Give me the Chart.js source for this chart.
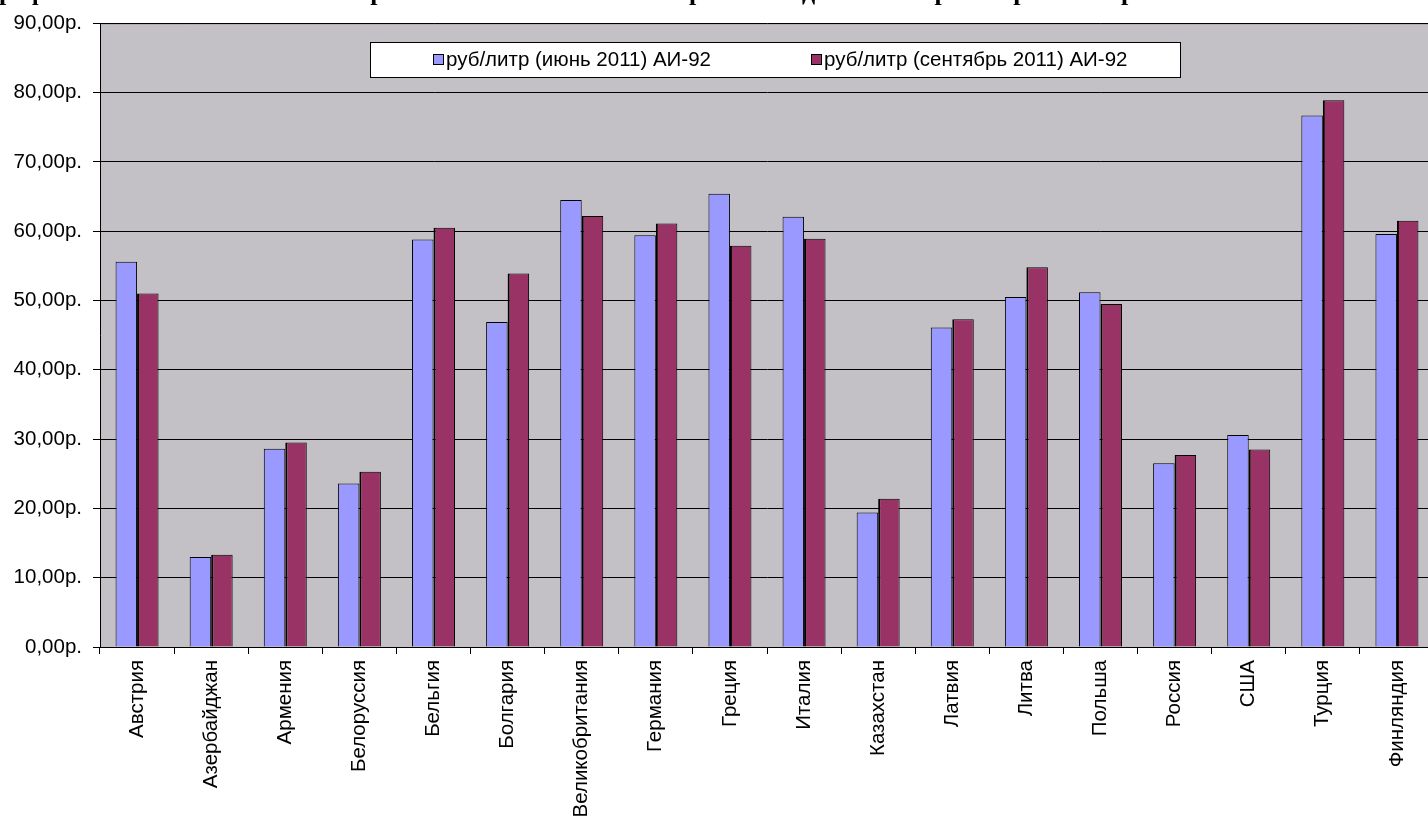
<!DOCTYPE html>
<html>
<head>
<meta charset="utf-8">
<script src="https://cdn.jsdelivr.net/npm/chart.js@4/dist/chart.umd.min.js"></script>
<style>
  html, body { margin: 0; padding: 0; background: #ffffff; overflow: hidden; }
  #wrap { width: 1440px; height: 825px; }
</style>
</head>
<body>
<div id="wrap"><canvas id="fuel" width="1440" height="825"></canvas></div>
<script>
const chartTitle = 'График 1. Стоимость бензина марки АИ-92 в июне и сентябре 2011 года в некоторых странах мира';

const countries = [
    'Австрия', 'Азербайджан', 'Армения', 'Белоруссия', 'Бельгия', 'Болгария',
    'Великобритания', 'Германия', 'Греция', 'Италия', 'Казахстан', 'Латвия',
    'Литва', 'Польша', 'Россия', 'США', 'Турция', 'Финляндия'
];

const juneLabel = 'руб/литр (июнь 2011) АИ-92';
const juneValues = [55.6, 13.0, 28.6, 23.6, 58.8, 46.9, 64.5, 59.4, 65.4, 62.1, 19.4, 46.1, 50.5, 51.2, 26.5, 30.6, 76.7, 59.6];

const septLabel = 'руб/литр (сентябрь 2011) АИ-92';
const septValues = [51.0, 13.3, 29.5, 25.3, 60.5, 53.9, 62.2, 61.1, 57.9, 58.9, 21.4, 47.3, 54.8, 49.5, 27.7, 28.5, 78.9, 61.5];

const yTicks = [0, 10, 20, 30, 40, 50, 60, 70, 80, 90];

const font = { family: '"Liberation Sans", Arial', size: 20.5 };

function rub(v) {
    return v.toFixed(2).replace('.', ',') + 'р.';
}

// grey plot area like the old excel charts
const plotBg = {
    id: 'plotBg',
    beforeDraw(chart) {
        const a = chart.chartArea;
        const ctx = chart.ctx;
        ctx.save();
        ctx.fillStyle = '#c3c1c5';
        ctx.fillRect(a.left, a.top, a.right - a.left, a.bottom - a.top);
        ctx.strokeStyle = '#808080';
        ctx.lineWidth = 1;
        ctx.beginPath();
        ctx.moveTo(a.left, a.top + 0.5);
        ctx.lineTo(a.right, a.top + 0.5);
        ctx.stroke();
        ctx.restore();
    }
};

// title sits above the page, only its lower part is visible
const cutTitle = {
    id: 'cutTitle',
    afterDraw(chart) {
        const ctx = chart.ctx;
        ctx.save();
        ctx.font = 'bold 26px "Liberation Serif", "Times New Roman"';
        ctx.fillStyle = '#000';
        ctx.textBaseline = 'alphabetic';
        ctx.textAlign = 'left';
        ctx.fillText(chartTitle, -16, 0);
        ctx.restore();
    }
};

// boxed legend inside the plot
const boxLegend = {
    id: 'boxLegend',
    afterDraw(chart) {
        const ctx = chart.ctx;
        const x = 370, y = 42, w = 810, h = 35;
        ctx.save();
        ctx.fillStyle = '#ffffff';
        ctx.fillRect(x, y, w, h);
        ctx.strokeStyle = '#000';
        ctx.lineWidth = 1;
        ctx.strokeRect(x + 0.5, y + 0.5, w, h);
        ctx.font = '20.5px "Liberation Sans", Arial';
        ctx.textBaseline = 'middle';
        const starts = [433, 811];
        chart.data.datasets.forEach((ds, i) => {
            const sx = starts[i];
            ctx.fillStyle = ds.backgroundColor;
            ctx.fillRect(sx, y + 12, 10, 10);
            ctx.strokeRect(sx + 0.5, y + 12.5, 10, 10);
            ctx.fillStyle = '#000';
            ctx.fillText(ds.label, sx + 13, y + 18);
        });
        ctx.restore();
    }
};

const ctx = document.getElementById('fuel').getContext('2d');
const fuelChart = new Chart(ctx, {
    type: 'bar',
    data: {
        labels: countries,
        datasets: [
            {
                label: juneLabel,
                data: juneValues,
                backgroundColor: '#9999ff',
                borderColor: '#000000',
                borderWidth: { top: 1, left: 1, right: 1, bottom: 0 }
            },
            {
                label: septLabel,
                data: septValues,
                backgroundColor: '#993366',
                borderColor: '#000000',
                borderWidth: { top: 1, left: 2, right: 1, bottom: 0 }
            }
        ]
    },
    options: {
        responsive: false,
        animation: false,
        layout: {
            padding: { top: 21, right: 6, left: 0, bottom: 0 }
        },
        datasets: {
            bar: {
                categoryPercentage: 0.58,
                barPercentage: 1.0
            }
        },
        scales: {
            x: {
                offset: true,
                grid: {
                    display: true,
                    offset: true,
                    drawOnChartArea: false,
                    drawTicks: true,
                    tickLength: 7,
                    color: '#000000'
                },
                border: { color: '#000000', width: 1 },
                ticks: {
                    color: '#000000',
                    font: font,
                    minRotation: 90,
                    maxRotation: 90,
                    autoSkip: false,
                    padding: 6
                },
                afterFit: (scale) => { scale.height = 178; }
            },
            y: {
                min: 0,
                max: 90,
                afterBuildTicks: (scale) => {
                    scale.ticks = yTicks.map(v => ({ value: v }));
                },
                grid: {
                    color: '#000000',
                    lineWidth: 1,
                    tickLength: 7,
                    drawTicks: true
                },
                border: { color: '#000000', width: 1 },
                ticks: {
                    color: '#000000',
                    font: font,
                    padding: 11,
                    callback: (v) => rub(v)
                },
                afterFit: (scale) => { scale.width = 100; }
            }
        },
        plugins: {
            legend: { display: false },
            title: { display: false },
            tooltip: { enabled: false }
        }
    },
    plugins: [plotBg, cutTitle, boxLegend]
});
</script>
</body>
</html>
